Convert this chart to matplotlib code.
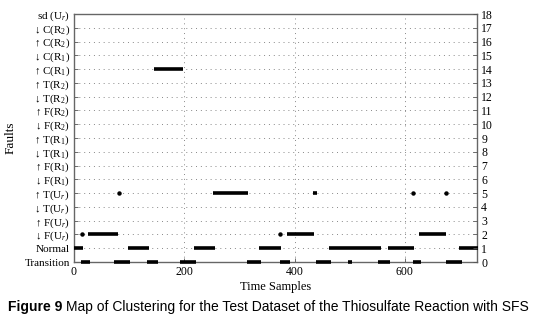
import matplotlib
matplotlib.use("Agg")
import matplotlib.pyplot as plt

plt.rcParams['mathtext.fontset'] = 'custom'
plt.rcParams['mathtext.rm'] = 'Liberation Serif'
plt.rcParams['mathtext.it'] = 'Liberation Serif:italic'

# fault labels, level 0 at bottom
fault_labels = [
    "Transition", "Normal",
    "↓ F(U$_r$)", "↑ F(U$_r$)", "↓ T(U$_r$)", "↑ T(U$_r$)",
    "↓ F(R$_1$)", "↑ F(R$_1$)", "↓ T(R$_1$)", "↑ T(R$_1$)",
    "↓ F(R$_2$)", "↑ F(R$_2$)", "↓ T(R$_2$)", "↑ T(R$_2$)",
    "↑ C(R$_1$)", "↓ C(R$_1$)", "↑ C(R$_2$)", "↓ C(R$_2$)",
    "sd (U$_r$)",
]

# (start sample, end sample) runs per level
transition_segs = [(13, 29), (72, 101), (132, 153), (192, 221), (313, 339),
                   (373, 391), (439, 466), (497, 504), (551, 574), (614, 630),
                   (674, 703)]
normal_segs = [(0, 16), (98, 136), (217, 256), (335, 376), (462, 556),
               (570, 617), (699, 732)]
f_ur_down_segs = [(25, 79), (387, 436), (626, 675)]
t_ur_up_segs = [(253, 316), (434, 440)]
c_r1_up_segs = [(145, 198)]

# isolated single samples
f_ur_down_pts = [15, 374]
t_ur_up_pts = [81, 614, 674]

segments = {0: transition_segs, 1: normal_segs, 2: f_ur_down_segs,
            5: t_ur_up_segs, 14: c_r1_up_segs}
points = {2: f_ur_down_pts, 5: t_ur_up_pts}

x_max = 731

fig = plt.figure(figsize=(5.37, 3.22), dpi=100)
ax = fig.add_axes([0.1378, 0.1863, 0.7505, 0.7702])

serif = ['Liberation Serif', 'DejaVu Serif']

# dotted grid
for lv in range(1, 18):
    ax.axhline(lv, color='#888888', lw=0.7, ls=(0, (1, 4)), zorder=1)
for xv in [200, 400, 600]:
    ax.axvline(xv, color='#888888', lw=0.7, ls=(0, (1, 4)), zorder=1)

for lv, segs in segments.items():
    for s, e in segs:
        ax.plot([s, e], [lv, lv], color='black', lw=2.6, solid_capstyle='butt',
                clip_on=False, zorder=3)
for lv, pts in points.items():
    ax.plot(pts, [lv] * len(pts), 'o', color='black', ms=3.2, mew=0,
            clip_on=False, zorder=3)

ax.set_xlim(0, x_max)
ax.set_ylim(0, 18)

ax.set_yticks(range(19))
ax.set_yticklabels(fault_labels, family=serif, fontsize=8)
ax.set_xticks([0, 200, 400, 600])
ax.set_xticklabels(['0', '200', '400', '600'], family=serif, fontsize=8.5)
ax.tick_params(axis='both', direction='in', length=3, width=0.6, color='#555555', pad=3)
ax.set_xlabel("Time Samples", family=serif, fontsize=9, labelpad=2)
ax.set_ylabel("Faults", family=serif, fontsize=9.5, labelpad=6)

for sp in ax.spines.values():
    sp.set_color('#666666')
    sp.set_linewidth(1.0)

ax2 = ax.twinx()
ax2.set_ylim(0, 18)
ax2.set_yticks(range(19))
ax2.set_yticklabels([str(i) for i in range(19)], family=serif, fontsize=8.5)
ax2.tick_params(axis='y', direction='in', length=3, width=0.6, color='#555555', pad=3)
for sp in ax2.spines.values():
    sp.set_visible(False)

# caption: bold "Figure 9" followed by regular text
t1 = fig.text(0.015, 0.035, "Figure 9", family=['Liberation Sans'], fontsize=10,
              fontweight='bold', va='baseline')
fig.canvas.draw()
bb = t1.get_window_extent(fig.canvas.get_renderer())
x2 = (bb.x1 + 4) / fig.bbox.width
fig.text(x2, 0.035, "Map of Clustering for the Test Dataset of the Thiosulfate Reaction with SFS",
         family=['Liberation Sans'], fontsize=10, va='baseline')

fig.savefig("out.png", dpi=100)
